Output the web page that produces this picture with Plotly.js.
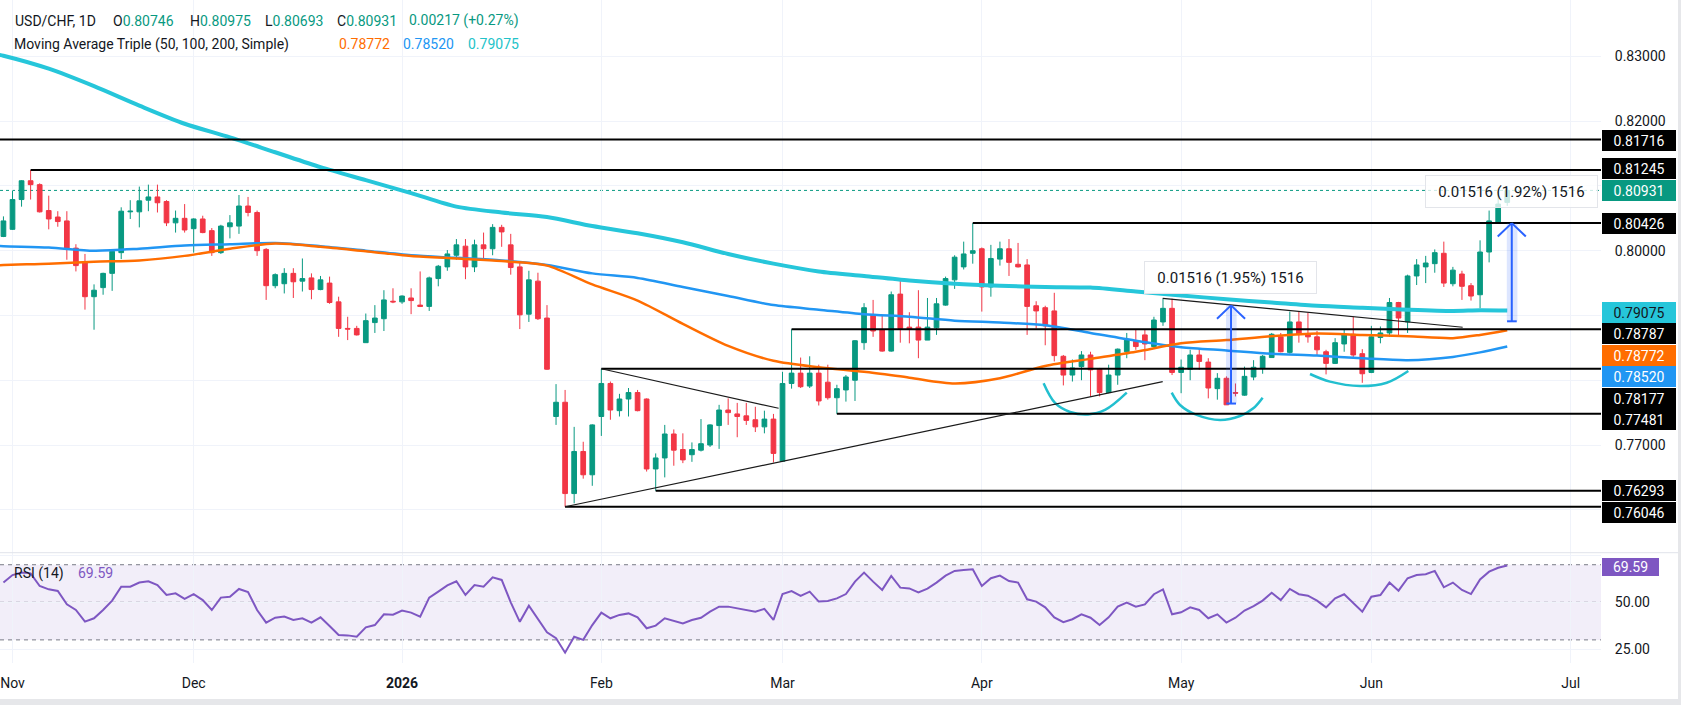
<!DOCTYPE html>
<html><head><meta charset="utf-8">
<script src="https://cdn.plot.ly/plotly-3.0.1.min.js"></script>
<style>html,body{margin:0;padding:0;background:#fff;overflow:hidden}#chart{width:1681px;height:705px}</style>
</head><body><div id="chart"></div>
<script>
const dates = [
'2025-10-31',
'2025-11-03','2025-11-04','2025-11-05','2025-11-06','2025-11-07','2025-11-10','2025-11-11','2025-11-12','2025-11-13','2025-11-14',
'2025-11-17','2025-11-18','2025-11-19','2025-11-20','2025-11-21','2025-11-24','2025-11-25','2025-11-26','2025-11-27','2025-11-28',
'2025-12-01','2025-12-02','2025-12-03','2025-12-04','2025-12-05','2025-12-08','2025-12-09','2025-12-10','2025-12-11','2025-12-12',
'2025-12-15','2025-12-16','2025-12-17','2025-12-18','2025-12-19','2025-12-22','2025-12-23','2025-12-24','2025-12-25','2025-12-26',
'2025-12-29','2025-12-30','2025-12-31',
'2026-01-01','2026-01-02','2026-01-05','2026-01-06','2026-01-07','2026-01-08','2026-01-09','2026-01-12','2026-01-13','2026-01-14',
'2026-01-15','2026-01-16','2026-01-19','2026-01-20','2026-01-21','2026-01-22','2026-01-23','2026-01-26','2026-01-27','2026-01-28',
'2026-01-29','2026-01-30',
'2026-02-02','2026-02-03','2026-02-04','2026-02-05','2026-02-06','2026-02-09','2026-02-10','2026-02-11','2026-02-12','2026-02-13',
'2026-02-16','2026-02-17','2026-02-18','2026-02-19','2026-02-20','2026-02-23','2026-02-24','2026-02-25','2026-02-26','2026-02-27',
'2026-03-02','2026-03-03','2026-03-04','2026-03-05','2026-03-06','2026-03-09','2026-03-10','2026-03-11','2026-03-12','2026-03-13',
'2026-03-16','2026-03-17','2026-03-18','2026-03-19','2026-03-20','2026-03-23','2026-03-24','2026-03-25','2026-03-26','2026-03-27',
'2026-03-30','2026-03-31',
'2026-04-01','2026-04-02','2026-04-03','2026-04-06','2026-04-07','2026-04-08','2026-04-09','2026-04-10','2026-04-13','2026-04-14',
'2026-04-15','2026-04-16','2026-04-17','2026-04-20','2026-04-21','2026-04-22','2026-04-23','2026-04-24','2026-04-27','2026-04-28',
'2026-04-29','2026-04-30',
'2026-05-01','2026-05-04','2026-05-05','2026-05-06','2026-05-07','2026-05-08','2026-05-11','2026-05-12','2026-05-13','2026-05-14',
'2026-05-15','2026-05-18','2026-05-19','2026-05-20','2026-05-21','2026-05-22','2026-05-25','2026-05-26','2026-05-27','2026-05-28',
'2026-05-29',
'2026-06-01','2026-06-02','2026-06-03','2026-06-04','2026-06-05','2026-06-08','2026-06-09','2026-06-10','2026-06-11','2026-06-12',
'2026-06-15','2026-06-16','2026-06-17','2026-06-18','2026-06-19','2026-06-22'
];
const open = [
0.8022,0.8033,0.8079,0.8108,0.8102,0.8062,0.8052,0.8046,0.8004,0.7982,
0.7929,0.7943,0.7965,0.7997,0.8060,0.8060,0.8078,0.8083,0.8076,0.8043,
0.8050,0.8034,0.8049,0.8031,0.7997,0.8037,0.8038,0.8069,0.8059,0.8002,
0.7946,0.7949,0.7965,0.7953,0.7958,0.7940,0.7950,0.7921,0.7880,0.7880,
0.7858,0.7889,0.7895,0.7922,0.7921,0.7927,0.7916,0.7914,0.7957,0.7975,
0.7993,0.8007,0.7975,0.8009,0.8003,0.8036,0.8009,0.7975,0.7902,0.7953,
0.7896,0.7744,0.7766,0.7625,0.7690,0.7654,0.7744,0.7795,0.7753,0.7771,
0.7781,0.7771,0.7663,0.7680,0.7717,0.7693,0.7685,0.7692,0.7700,0.7730,
0.7754,0.7748,0.7745,0.7739,0.7728,0.7740,0.7675,0.7795,0.7811,0.7791,
0.7811,0.7797,0.7773,0.7785,0.7800,0.7858,0.7901,0.7878,0.7845,0.7933,
0.7882,0.7882,0.7862,0.7881,0.7916,0.7955,0.7975,0.7996,0.8003,0.7944,
0.7987,0.8003,0.7979,0.7978,0.7915,0.7912,0.7907,0.7837,0.7808,0.7821,
0.7839,0.7817,0.7781,0.7808,0.7844,0.7860,0.7870,0.7852,0.7890,0.7911,
0.7812,0.7817,0.7839,0.7828,0.7787,0.7803,0.7781,0.7777,0.7805,0.7818,
0.7835,0.7867,0.7843,0.7890,0.7870,0.7867,0.7844,0.7826,0.7856,0.7871,
0.7841,0.7812,0.7866,0.7873,0.7920,0.7890,0.7961,0.7975,0.7980,0.7996,
0.7949,0.7964,0.7946,0.7932,0.7998,0.8043,0.80746
];
const high = [
0.8053,0.8093,0.8109,0.81245,0.8104,0.8085,0.8061,0.8061,0.8010,0.7995,
0.7948,0.7966,0.8001,0.8067,0.8078,0.8099,0.8102,0.8102,0.8078,0.8062,
0.8072,0.8050,0.8054,0.8035,0.8040,0.8055,0.8086,0.8083,0.8062,0.8004,
0.7965,0.7973,0.7973,0.7988,0.7965,0.7961,0.7960,0.7929,0.7898,0.7884,
0.7903,0.7916,0.7939,0.7942,0.7931,0.7942,0.7968,0.7960,0.7978,0.8001,
0.8018,0.8018,0.8017,0.8028,0.8041,0.8040,0.8026,0.7981,0.7969,0.7966,
0.7916,0.7794,0.7785,0.7728,0.7705,0.7732,0.78177,0.7798,0.7779,0.7788,
0.7785,0.7772,0.7687,0.7731,0.7724,0.7718,0.7704,0.7740,0.7732,0.7762,
0.7772,0.7765,0.7765,0.7759,0.7753,0.7748,0.7813,0.78787,0.7835,0.7837,
0.7824,0.7824,0.7793,0.7808,0.7862,0.7919,0.7924,0.7901,0.7937,0.7957,
0.7905,0.7939,0.7927,0.7927,0.7960,0.7993,0.8014,0.80426,0.8005,0.8009,
0.8014,0.8018,0.8012,0.7987,0.7922,0.7915,0.7935,0.7839,0.7832,0.7845,
0.7844,0.7819,0.7824,0.7849,0.7873,0.7878,0.7879,0.7898,0.7926,0.7926,
0.7832,0.7847,0.7848,0.7834,0.7811,0.7806,0.7795,0.7821,0.7831,0.7839,
0.7873,0.7873,0.7906,0.7906,0.7904,0.7876,0.7847,0.7865,0.7878,0.7898,
0.7848,0.7884,0.7883,0.7927,0.7921,0.7963,0.7987,0.7992,0.8002,0.8014,
0.7975,0.7969,0.7950,0.8016,0.8062,0.8091,0.80975
];
const low = [
0.8021,0.8032,0.8068,0.8079,0.8059,0.8033,0.8037,0.7986,0.7968,0.7909,
0.7878,0.7932,0.7938,0.7987,0.8049,0.8036,0.8061,0.8059,0.8038,0.8028,
0.8028,0.7997,0.8027,0.7992,0.7995,0.8019,0.8026,0.8053,0.7992,0.7924,
0.7942,0.7934,0.7927,0.7937,0.7925,0.7939,0.7918,0.7867,0.7862,0.7869,
0.7858,0.7873,0.7876,0.7919,0.7918,0.7902,0.7913,0.7907,0.7945,0.7969,
0.7986,0.7956,0.7967,0.7986,0.7993,0.8006,0.7963,0.7879,0.7890,0.7893,
0.7816,0.7731,0.76046,0.7610,0.7648,0.7637,0.7714,0.7739,0.7744,0.7744,
0.7752,0.7659,0.76293,0.7650,0.7668,0.7672,0.7674,0.7690,0.7697,0.7694,
0.7731,0.7712,0.7731,0.7720,0.7718,0.7673,0.7674,0.7787,0.7788,0.7788,
0.7761,0.7770,0.77481,0.7767,0.7768,0.7847,0.7867,0.7844,0.7844,0.7858,
0.7857,0.7834,0.7862,0.7870,0.7915,0.7941,0.7971,0.7980,0.7906,0.7929,
0.7977,0.7961,0.7974,0.7870,0.7880,0.7854,0.7829,0.7792,0.7798,0.7800,
0.7775,0.7775,0.7780,0.7793,0.7834,0.7847,0.7831,0.7852,0.7884,0.7808,
0.7780,0.7800,0.7816,0.7772,0.7770,0.7762,0.7775,0.7776,0.7800,0.7810,
0.7835,0.7843,0.7841,0.7858,0.7858,0.7839,0.7809,0.7825,0.7844,0.7835,
0.7796,0.7811,0.7857,0.7867,0.7869,0.7873,0.7947,0.7950,0.7966,0.7944,
0.7945,0.7924,0.7923,0.7911,0.7982,0.8042,0.80693
];
const close = [
0.8046,0.8079,0.8108,0.8102,0.8060,0.8049,0.8045,0.8002,0.7977,0.7929,
0.7939,0.7965,0.7999,0.8061,0.8061,0.8077,0.8083,0.8074,0.8043,0.8050,
0.8032,0.8049,0.8028,0.7997,0.8038,0.8043,0.8069,0.8059,0.8000,0.7946,
0.7963,0.7965,0.7952,0.7957,0.7940,0.7955,0.7920,0.7880,0.7879,0.7870,
0.7892,0.7896,0.7924,0.7921,0.7930,0.7923,0.7914,0.7958,0.7976,0.7995,
0.8009,0.7975,0.8009,0.8003,0.8036,0.8029,0.7974,0.7901,0.7955,0.7895,
0.7817,0.7766,0.7625,0.7690,0.7654,0.7731,0.7795,0.7754,0.7771,0.7781,
0.7753,0.7663,0.7680,0.7717,0.7692,0.7677,0.7693,0.7702,0.7731,0.7754,
0.7750,0.7744,0.7738,0.7728,0.7740,0.7687,0.7795,0.7811,0.7790,0.7811,
0.7768,0.7773,0.7787,0.7805,0.7861,0.7912,0.7876,0.7845,0.7932,0.7880,
0.7879,0.7862,0.7882,0.7918,0.7957,0.7990,0.7995,0.8000,0.7944,0.7988,
0.8003,0.7982,0.7975,0.7914,0.7907,0.7884,0.7838,0.7808,0.7819,0.7839,
0.7816,0.7781,0.7808,0.7848,0.7862,0.7852,0.7856,0.7893,0.7911,0.7812,
0.7820,0.7839,0.7829,0.7788,0.7803,0.7762,0.7780,0.7806,0.7820,0.7837,
0.7871,0.7844,0.7890,0.7871,0.7867,0.7847,0.7826,0.7858,0.7871,0.7839,
0.7810,0.7867,0.7873,0.7920,0.7896,0.7961,0.7978,0.7981,0.7997,0.7950,
0.7970,0.7945,0.7930,0.7998,0.8046,0.8072,0.80931
];
const rsi = [
60.5,64.5,65.8,65.4,58.7,56.9,56.0,48.9,45.9,39.7,
41.5,45.9,50.9,58.3,58.3,60.5,61.2,59.2,53.9,54.8,
51.8,54.3,51.2,45.9,52.5,53.0,57.1,55.5,45.9,39.2,
41.8,42.4,40.6,41.5,39.2,42.0,37.4,32.6,32.4,31.7,
36.7,37.9,43.6,43.4,45.6,44.5,42.4,52.5,55.7,59.0,
61.2,53.9,59.2,58.3,63.3,61.9,50.0,39.6,48.2,41.1,
34.0,30.9,23.2,31.7,30.0,37.9,44.5,41.5,43.3,44.1,
42.0,36.2,37.6,41.5,40.1,38.8,40.6,41.8,45.0,47.7,
47.7,46.8,46.3,45.0,46.5,40.6,54.4,56.0,53.4,55.7,
50.4,50.7,52.1,54.4,61.0,65.8,61.0,56.6,64.0,57.8,
57.4,55.3,57.3,60.5,64.2,66.7,67.2,67.6,58.7,62.8,
64.2,61.3,60.5,51.6,50.4,47.3,42.0,39.4,41.0,43.6,
41.8,37.9,42.0,47.7,49.8,47.7,48.9,54.3,56.9,43.6,
44.7,47.3,45.9,41.5,43.6,39.2,41.8,45.6,48.0,50.9,
55.1,51.2,57.1,54.3,53.5,50.9,47.3,52.1,54.3,49.5,
45.0,53.0,53.9,60.5,56.2,62.8,64.5,64.9,66.7,58.0,
60.5,56.6,54.4,62.2,66.3,68.4,69.59
];
const maDates = ['2025-10-30','2025-10-31','2025-11-07','2025-11-14','2025-11-21','2025-11-28','2025-12-05','2025-12-12','2025-12-19','2025-12-26',
'2026-01-02','2026-01-09','2026-01-16','2026-01-23','2026-01-30','2026-02-06','2026-02-13','2026-02-20','2026-02-27','2026-03-06',
'2026-03-13','2026-03-20','2026-03-27','2026-04-03','2026-04-10','2026-04-17','2026-04-24','2026-05-01','2026-05-08','2026-05-15',
'2026-05-22','2026-05-29','2026-06-05','2026-06-12','2026-06-17','2026-06-22'];
const ma50 = [0.7977,0.7978,0.7980,0.7983,0.7985,0.7992,0.8003,0.8011,0.8006,0.7999,
0.7992,0.7988,0.7984,0.7977,0.7948,0.7923,0.7887,0.7853,0.7830,0.7820,
0.7813,0.7804,0.7795,0.7803,0.7822,0.7833,0.7844,0.7857,0.7862,0.7868,
0.7872,0.7870,0.7868,0.7865,0.7870,0.78772];
const ma100 = [0.8008,0.8007,0.8005,0.8000,0.8003,0.8008,0.8010,0.8012,0.8007,0.8000,
0.7993,0.7989,0.7985,0.7978,0.7965,0.7958,0.7944,0.7930,0.7916,0.7909,
0.7902,0.7898,0.7892,0.7889,0.7885,0.7873,0.7861,0.7851,0.7846,0.7841,
0.7838,0.7834,0.7831,0.7836,0.7843,0.78520];
const ma200 = [0.8304,0.8301,0.8281,0.8254,0.8224,0.8196,0.8175,0.8152,0.8129,0.8109,
0.8089,0.8068,0.8059,0.8052,0.8038,0.8027,0.8013,0.7995,0.7980,0.7968,
0.7961,0.7954,0.7949,0.7946,0.7944,0.7943,0.7937,0.7931,0.7925,0.7920,
0.7915,0.7912,0.7909,0.7907,0.7908,0.79075];
const tickDates = ['2025-11-03','2025-12-01','2026-01-01','2026-02-02','2026-03-02','2026-04-01','2026-05-01','2026-06-01','2026-07-01'];
const tickLabels = ['Nov','Dec','<b>2026</b>','Feb','Mar','Apr','May','Jun','Jul'];
const priceTicks = [0.76,0.77,0.78,0.79,0.80,0.81,0.82,0.83];
const priceTickLabels = ['','0.77000','','','0.80000','','0.82000','0.83000'];
const rsiTicks = [25,50,75];
const rsiTickLabels = ['25.00','50.00',''];
const levels = [0.81716,0.81245,0.80426,0.78787,0.78177,0.77481,0.76293,0.76046];
const levelStart = ['2025-10-29','2025-11-05','2026-03-31','2026-03-03','2026-02-02','2026-03-10','2026-02-10','2026-01-27'];
const levelLabelPx = [140.7,168.6,223.2,333.6,398,419.5,490.7,512.9];
const measureText = ['0.01516 (1.95%) 1516','0.01516 (1.92%) 1516'];

// ---------- geometry helpers (layout only) ----------
const W = 1601, H = 663;
const PY = py => 1 - py / H;
const PX = px => px / W;
function tx(a){
  const b = Math.floor(a), fr = a - b; let d;
  if (b >= 0 && b < dates.length) d = new Date(dates[b]+'T00:00:00Z');
  else if (b >= dates.length){ d = new Date(dates[dates.length-1]+'T00:00:00Z'); let k=b-(dates.length-1);
    while(k>0){ d.setUTCDate(d.getUTCDate()+1); const w=d.getUTCDay(); if(w!==0&&w!==6) k--; } }
  else { d = new Date(dates[0]+'T00:00:00Z'); let k=-b;
    while(k>0){ d.setUTCDate(d.getUTCDate()-1); const w=d.getUTCDay(); if(w!==0&&w!==6) k--; } }
  d = new Date(d.getTime()+fr*86400000);
  return d.toISOString().slice(0,19).replace('T',' ');
}
const FONT = 'Roboto, "Open Sans", sans-serif';
const GREEN='#089981', RED='#F23645', C50='#FF6D00', C100='#2196F3', C200='#26C6DA', PURPLE='#7E57C2', TXT='#131722', BLUE='#2962FF';
const last = close.length-1;

const traces = [
  {type:'candlestick', x:dates, open:open, high:high, low:low, close:close, xaxis:'x', yaxis:'y',
   increasing:{line:{color:GREEN,width:1},fillcolor:GREEN}, decreasing:{line:{color:RED,width:1},fillcolor:RED},
   whiskerwidth:0, hoverinfo:'skip', showlegend:false},
  {type:'scatter', mode:'lines', x:maDates, y:ma200, line:{color:C200,width:4,shape:'spline',smoothing:0.8}, hoverinfo:'skip', showlegend:false},
  {type:'scatter', mode:'lines', x:maDates, y:ma100, line:{color:C100,width:2.5,shape:'spline',smoothing:0.8}, hoverinfo:'skip', showlegend:false},
  {type:'scatter', mode:'lines', x:maDates, y:ma50, line:{color:C50,width:2.5,shape:'spline',smoothing:0.8}, hoverinfo:'skip', showlegend:false},
  {type:'scatter', mode:'lines', x:dates, y:rsi, xaxis:'x', yaxis:'y2', line:{color:PURPLE,width:2}, hoverinfo:'skip', showlegend:false}
];
// drawn arcs (chart annotations)
const arcs = [
  [[114.82,0.77953],[116.08,0.77649],[117.74,0.77510],[119.72,0.77472],[121.6,0.77541],[124.0,0.77808]],
  [[128.96,0.77808],[129.88,0.77618],[131.72,0.77464],[134.3,0.77386],[136.5,0.77448],[137.97,0.77567],[139.0,0.77731]],
  [[144.23,0.78096],[146.44,0.77978],[149.75,0.77911],[152.7,0.77962],[155.08,0.78143]]
];
arcs.forEach(arc => traces.push({type:'scatter', mode:'lines', x:arc.map(p=>tx(p[0])), y:arc.map(p=>p[1]),
  line:{color:'#22BFCF',width:2.5,shape:'spline',smoothing:1}, hoverinfo:'skip', showlegend:false}));

const shapes = [];
shapes.push({type:'rect', xref:'paper', x0:0, x1:1, yref:'y2', y0:30, y1:70, fillcolor:'rgba(126,87,194,0.1)', line:{width:0}, layer:'below'});
[70,50,30].forEach(v => shapes.push({type:'line', xref:'paper', x0:0, x1:1, yref:'y2', y0:v, y1:v, line:{color:'#787B86',width:1,dash:'4px,4px'}, layer:'below'}));
shapes.push({type:'line', xref:'paper', x0:0, x1:1, yref:'y', y0:close[last], y1:close[last], line:{color:GREEN,width:1,dash:'dot'}, layer:'below'});
const xEnd = tx(185);
levels.forEach((v,i) => shapes.push({type:'line', xref:'x', yref:'y', x0:levelStart[i], x1:xEnd, y0:v, y1:v, line:{color:'#000',width:2}, layer:'above'}));
[[66,0.78177,85.57,0.77567],[62,0.76046,127.97,0.77978],[127.97,0.79265,161.08,0.78818]].forEach(t =>
  shapes.push({type:'line', xref:'x', yref:'y', x0:tx(t[0]), y0:t[1], x1:tx(t[2]), y1:t[3], line:{color:'#1a1a1a',width:1.2}, layer:'above'}));
function arrow(a, pLow, pHigh){
  const dy = 0.00206;
  shapes.push({type:'rect', xref:'x', yref:'y', x0:tx(a-0.55), x1:tx(a+0.62), y0:pLow, y1:pHigh, fillcolor:'rgba(41,98,255,0.16)', line:{width:0}, layer:'above'});
  shapes.push({type:'line', xref:'x', yref:'y', x0:tx(a), x1:tx(a), y0:pLow, y1:pHigh, line:{color:BLUE,width:2}, layer:'above'});
  shapes.push({type:'line', xref:'x', yref:'y', x0:tx(a-1.55), x1:tx(a), y0:pHigh-dy, y1:pHigh, line:{color:BLUE,width:2}, layer:'above'});
  shapes.push({type:'line', xref:'x', yref:'y', x0:tx(a), x1:tx(a+1.55), y0:pHigh, y1:pHigh-dy, line:{color:BLUE,width:2}, layer:'above'});
  shapes.push({type:'line', xref:'x', yref:'y', x0:tx(a-0.52), x1:tx(a+0.55), y0:pLow, y1:pLow, line:{color:BLUE,width:2}, layer:'above'});
}
arrow(135.51, 0.77640, 0.79156);
arrow(166.5, 0.78910, 0.80426);
shapes.push({type:'line', xref:'paper', yref:'paper', x0:0, x1:PX(1678), y0:PY(552.7), y1:PY(552.7), line:{color:'#E0E3EB',width:1}});
shapes.push({type:'rect', xref:'paper', yref:'paper', x0:PX(1678), x1:PX(1682), y0:PY(706), y1:1, fillcolor:'#E6E7EA', line:{width:0}});
shapes.push({type:'rect', xref:'paper', yref:'paper', x0:0, x1:PX(1682), y0:PY(706), y1:PY(699), fillcolor:'#E6E7EA', line:{width:0}});

const ann = [];
function txt(text, px, py, size, color, extra){ ann.push(Object.assign({text:text, xref:'paper', yref:'paper', x:PX(px), y:PY(py), xanchor:'left', yanchor:'middle', showarrow:false, font:{family:FONT,size:size,color:color}}, extra||{})); }
const g = s => '<span style="color:'+GREEN+'">'+s+'</span>';
txt('USD/CHF, 1D', 12.5, 20.7, 14, TXT);
txt('O'+g(open[last].toFixed(5)), 111.4, 20.7, 14, TXT);
txt('H'+g(high[last].toFixed(5)), 187.5, 20.7, 14, TXT);
txt('L'+g(low[last].toFixed(5)), 262.5, 20.7, 14, TXT);
txt('C'+g(close[last].toFixed(5)), 334.6, 20.7, 14, TXT);
txt('0.00217 (+0.27%)', 407, 20.7, 14, GREEN);
txt('Moving Average Triple (50, 100, 200, Simple)', 11.7, 44.3, 14, TXT);
txt(ma50[ma50.length-1].toFixed(5), 336.7, 44.3, 14, C50);
txt(ma100[ma100.length-1].toFixed(5), 401, 44.3, 14, C100);
txt(ma200[ma200.length-1].toFixed(5), 466, 44.3, 14, '#22C3C9');
txt('RSI (14)', 12.3, 573.3, 14, TXT);
txt(rsi[last].toFixed(2), 76, 573.3, 14, PURPLE);

function plabel(text, py, bg, fg, w, h){
  ann.push({text:text, xref:'paper', yref:'paper', x:PX(1602), y:PY(py), xanchor:'left', yanchor:'middle', showarrow:false,
    bgcolor:bg, borderpad:1, borderwidth:0, width:w||72, height:h||19, align:'center', font:{family:FONT,size:14,color:fg}});
}
levels.forEach((v,i) => plabel(v.toFixed(5), levelLabelPx[i], '#000000', '#ffffff'));
plabel(close[last].toFixed(5), 190.7, GREEN, '#ffffff');
plabel(ma200[ma200.length-1].toFixed(5), 312.1, C200, TXT);
plabel(ma50[ma50.length-1].toFixed(5), 355, C50, '#ffffff');
plabel(ma100[ma100.length-1].toFixed(5), 376.4, C100, '#ffffff');
plabel(rsi[last].toFixed(2), 567, PURPLE, '#ffffff', 55, 16);

ann.push({text:measureText[0], xref:'x', yref:'y', x:tx(135.47), y:0.79586, showarrow:false, xanchor:'center', yanchor:'middle',
  bgcolor:'rgba(255,255,255,0.96)', bordercolor:'#E3E5EA', borderwidth:1, borderpad:0, width:171, height:31, font:{family:FONT,size:15,color:TXT}});
ann.push({text:measureText[1], xref:'x', yref:'y', x:tx(166.5), y:0.80907, showarrow:false, xanchor:'center', yanchor:'middle',
  bgcolor:'rgba(255,255,255,0.78)', bordercolor:'#E3E5EA', borderwidth:1, borderpad:0, width:171, height:31, font:{family:FONT,size:15,color:TXT}});

const layout = {
  width:1681, height:705, margin:{l:0,r:80,t:0,b:42}, paper_bgcolor:'#ffffff', plot_bgcolor:'#ffffff',
  font:{family:FONT,size:14,color:TXT}, showlegend:false, hovermode:false, boxgap:0.26,
  xaxis:{type:'date', range:[tx(-0.38), tx(176.35)], rangebreaks:[{bounds:['sat','mon']}], anchor:'y2',
    tickvals:tickDates, ticktext:tickLabels, tickfont:{family:FONT,size:14,color:TXT},
    showgrid:true, gridcolor:'#F0F3FA', zeroline:false, showline:false, ticks:'outside', ticklen:7, tickcolor:'rgba(0,0,0,0)',
    rangeslider:{visible:false}, fixedrange:true},
  yaxis:{domain:[PY(552.7),1], range:[0.75337,0.83871], side:'right', anchor:'x', tickvals:priceTicks, ticktext:priceTickLabels,
    tickfont:{family:FONT,size:14,color:TXT}, showgrid:true, gridcolor:'#F0F3FA', zeroline:false, showline:false,
    ticks:'outside', ticklen:10, tickcolor:'rgba(0,0,0,0)', fixedrange:true},
  yaxis2:{domain:[0,PY(552.7)], range:[17.7,76.4], side:'right', anchor:'x', tickvals:rsiTicks, ticktext:rsiTickLabels,
    tickfont:{family:FONT,size:14,color:TXT}, showgrid:true, gridcolor:'#F0F3FA', zeroline:false, showline:false,
    ticks:'outside', ticklen:10, tickcolor:'rgba(0,0,0,0)', fixedrange:true},
  shapes:shapes, annotations:ann
};
Plotly.newPlot('chart', traces, layout, {displayModeBar:false, staticPlot:true});
</script>
</body></html>
